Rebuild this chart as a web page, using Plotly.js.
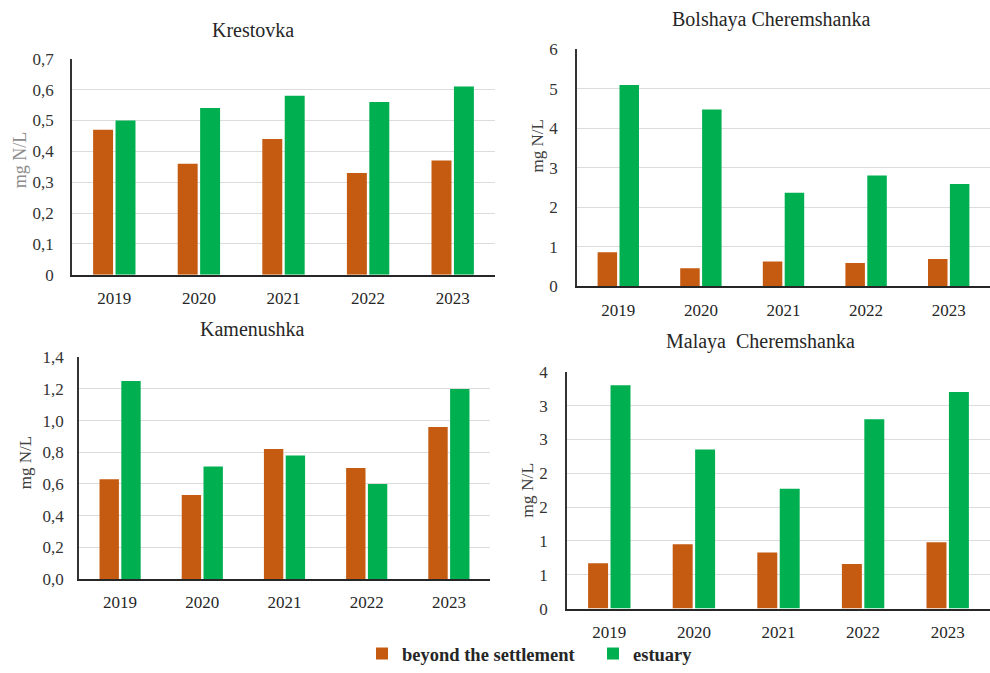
<!DOCTYPE html>
<html>
<head>
<meta charset="utf-8">
<script src="https://cdn.plot.ly/plotly-3.0.1.min.js"></script>
<style>html,body{margin:0;padding:0;background:#fff;}#chart{width:990px;height:673px;}</style>
</head>
<body>
<div id="chart"></div>
<script>
const years = ["2019", "2020", "2021", "2022", "2023"];
const seriesNames = ["beyond the settlement", "estuary"];

const krestovkaBeyond = [0.47, 0.36, 0.44, 0.33, 0.37];
const krestovkaEstuary = [0.50, 0.54, 0.58, 0.56, 0.61];

const bolshayaBeyond = [0.86, 0.46, 0.63, 0.59, 0.69];
const bolshayaEstuary = [5.10, 4.48, 2.37, 2.81, 2.59];

const kamenushkaBeyond = [0.63, 0.53, 0.82, 0.70, 0.96];
const kamenushkaEstuary = [1.25, 0.71, 0.78, 0.60, 1.20];

const malayaBeyond = [0.67, 0.95, 0.83, 0.66, 0.98];
const malayaEstuary = [3.30, 2.35, 1.77, 2.80, 3.20];

const krestovkaTickVals = [0, 0.1, 0.2, 0.3, 0.4, 0.5, 0.6, 0.7];
const krestovkaTickText = ["0", "0,1", "0,2", "0,3", "0,4", "0,5", "0,6", "0,7"];
const bolshayaTickVals = [0, 1, 2, 3, 4, 5, 6];
const bolshayaTickText = ["0", "1", "2", "3", "4", "5", "6"];
const kamenushkaTickVals = [0, 0.2, 0.4, 0.6, 0.8, 1.0, 1.2, 1.4];
const kamenushkaTickText = ["0,0", "0,2", "0,4", "0,6", "0,8", "1,0", "1,2", "1,4"];
const malayaTickVals = [0, 0.5, 1, 1.5, 2, 2.5, 3, 3.5];
const malayaTickText = ["0", "1", "1", "2", "2", "3", "3", "4"];

const panelTitles = ["Krestovka", "Bolshaya Cheremshanka", "Kamenushka", "Malaya  Cheremshanka"];
const yTitle = "mg N/L";

const ORANGE = "#C55A11";
const GREEN = "#00B050";
const FONT = "Liberation Serif";

const panels = [
  {b: krestovkaBeyond, e: krestovkaEstuary, xa: "x", ya: "y"},
  {b: bolshayaBeyond, e: bolshayaEstuary, xa: "x2", ya: "y2"},
  {b: kamenushkaBeyond, e: kamenushkaEstuary, xa: "x3", ya: "y3"},
  {b: malayaBeyond, e: malayaEstuary, xa: "x4", ya: "y4"}
];

const traces = [];
panels.forEach((p, i) => {
  traces.push({type: "bar", x: years, y: p.b, name: seriesNames[0], xaxis: p.xa, yaxis: p.ya,
    marker: {color: ORANGE}, showlegend: i === 0, legendgroup: "b", hoverinfo: "y"});
  traces.push({type: "bar", x: years, y: p.e, name: seriesNames[1], xaxis: p.xa, yaxis: p.ya,
    marker: {color: GREEN}, showlegend: i === 0, legendgroup: "e", hoverinfo: "y"});
});

const W = 990, H = 673;
const fx = v => v / W;
const fy = v => 1 - v / H;

function xAxis(x0, x1, anchor) {
  return {
    domain: [fx(x0), fx(x1)], anchor: anchor, type: "category",
    showline: true, linecolor: "#262626", linewidth: 2,
    showgrid: false, ticks: "outside", ticklen: 7, tickcolor: "rgba(0,0,0,0)",
    tickfont: {family: FONT, size: 17, color: "#262626"}
  };
}
function yAxis(y0, y1, anchor, max, vals, text, standoff) {
  return {
    domain: [fy(y0), fy(y1)], anchor: anchor, range: [0, max],
    tickmode: "array", tickvals: vals, ticktext: text,
    showline: true, linecolor: "#333", linewidth: 1.5,
    showgrid: true, gridcolor: "#dcdcdc", gridwidth: 1, zeroline: false,
    ticks: "outside", ticklen: standoff, tickcolor: "rgba(0,0,0,0)",
    tickfont: {family: FONT, size: 17, color: "#333"}
  };
}

const layout = {
  width: W, height: H,
  margin: {l: 0, r: 0, t: 0, b: 0},
  paper_bgcolor: "#fff", plot_bgcolor: "#fff",
  barmode: "group", bargap: 0.47, bargroupgap: 0.11,
  font: {family: FONT, color: "#262626"},
  xaxis: xAxis(72, 495, "y"),
  yaxis: yAxis(277.7, 59.3, "x", 0.7, krestovkaTickVals, krestovkaTickText, 13),
  xaxis2: xAxis(577, 990, "y2"),
  yaxis2: yAxis(289.3, 50, "x2", 6, bolshayaTickVals, bolshayaTickText, 14),
  xaxis3: xAxis(79, 490, "y3"),
  yaxis3: yAxis(585, 361, "x3", 1.4, kamenushkaTickVals, kamenushkaTickText, 10),
  xaxis4: xAxis(567, 990, "y4"),
  yaxis4: yAxis(615, 375.7, "x4", 3.5, malayaTickVals, malayaTickText, 14),
  showlegend: true,
  legend: {
    orientation: "h", x: fx(362), xanchor: "left", y: fy(661), yanchor: "middle",
    font: {family: FONT, size: 18.5, color: "#262626", weight: "bold"},
    entrywidth: 186, traceorder: "normal", bgcolor: "rgba(0,0,0,0)"
  },
  annotations: [
    {text: panelTitles[0], x: fx(253), y: fy(30)},
    {text: panelTitles[1], x: fx(771), y: fy(20)},
    {text: panelTitles[2], x: fx(253), y: fy(332)},
    {text: panelTitles[3], x: fx(760), y: fy(345)}
  ].map(a => Object.assign({xref: "paper", yref: "paper", showarrow: false,
    xanchor: "center", yanchor: "middle", font: {family: FONT, size: 20, color: "#262626"}}, a))
  .concat([
    {text: yTitle, x: fx(20), y: fy(162), color: "#8c8c8c", size: 18},
    {text: yTitle, x: fx(537), y: fy(148), color: "#404040", size: 17},
    {text: yTitle, x: fx(25), y: fy(468), color: "#404040", size: 17},
    {text: yTitle, x: fx(527), y: fy(496), color: "#404040", size: 17.5}
  ].map(a => ({xref: "paper", yref: "paper", showarrow: false, textangle: -90,
    xanchor: "center", yanchor: "middle", text: a.text, x: a.x, y: a.y,
    font: {family: FONT, size: a.size, color: a.color}})))
};

Plotly.newPlot("chart", traces, layout, {displayModeBar: false});
</script>
</body>
</html>
